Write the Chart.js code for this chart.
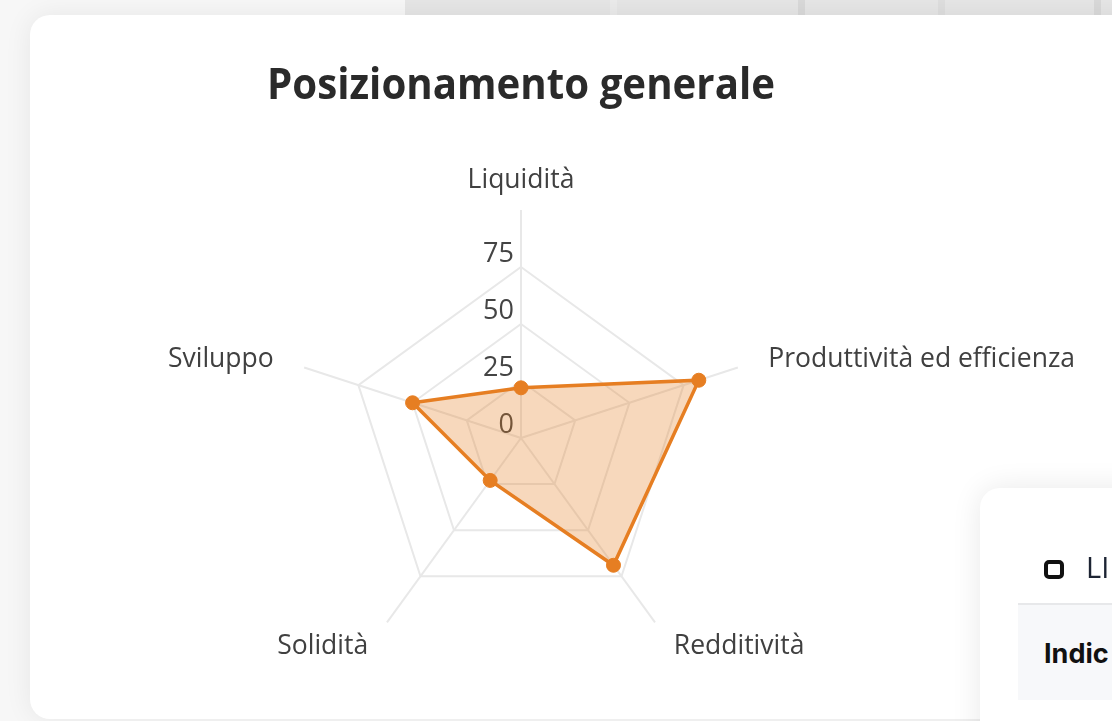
<!DOCTYPE html>
<html>
<head>
<meta charset="utf-8">
<script src="https://cdn.jsdelivr.net/npm/chart.js@4.4.1/dist/chart.umd.min.js"></script>
<style>
  html, body { margin: 0; padding: 0; width: 1112px; height: 721px; overflow: hidden; background: #f7f7f7; }
  .strip { position: absolute; left: 405px; top: 0; width: 707px; height: 17px; background: #e6e6e6; }
  .strip .bar { position: absolute; top: 0; height: 17px; width: 7px; background: #d9d9d9; }
  .card { position: absolute; left: 30px; top: 15px; width: 1250px; height: 704px; background: #fff;
          border-radius: 20px; box-shadow: 0 0 28px rgba(0,0,0,0.07); }
  #wrap { position: absolute; left: 0; top: 0; width: 1112px; height: 721px; }
  .card2 { position: absolute; left: 980px; top: 488px; width: 320px; height: 320px; background: #fff;
           border-radius: 20px; box-shadow: 0 0 30px rgba(0,0,0,0.09); overflow: hidden; }
  .card2 .icon { position: absolute; left: 64px; top: 72px; width: 12px; height: 11px; border: 4px solid #111; border-radius: 5px; }
  .card2 .head { position: absolute; left: 106px; top: 62px; font: 500 29px "Open Sans", sans-serif; color: #1d2433; white-space: nowrap; line-height: 34px; }
  .card2 .sep { position: absolute; left: 38px; top: 115px; width: 300px; height: 2px; background: #e7e8ea; }
  .card2 .thead { position: absolute; left: 38px; top: 117px; width: 300px; height: 95px; background: #f7f8fa; }
  .card2 .thead span { position: absolute; left: 26px; top: 33px; font: 700 27px "Inter", sans-serif; color: #111; white-space: nowrap; line-height: 32px; }
</style>
</head>
<body>
<div class="strip">
  <div class="bar" style="left:205px;background:#ebebeb"></div>
  <div class="bar" style="left:393px"></div>
  <div class="bar" style="left:533px;background:#dedede"></div>
  <div class="bar" style="left:689px"></div>
</div>
<div class="card"></div>
<div id="wrap"><canvas id="c" width="1112" height="721"></canvas></div>
<div class="card2">
  <div class="icon"></div>
  <div class="head">LI</div>
  <div class="sep"></div>
  <div class="thead"><span>Indic</span></div>
</div>
<script>
const categories = ['Liquidità', 'Produttività ed efficienza', 'Redditività', 'Solidità', 'Sviluppo'];
const seriesValues = [22, 82, 69, 23, 50];
const tickValues = [0, 25, 50, 75];
const scaleMin = 0;
const scaleMax = 100;

const labelFont = '26.5px "Open Sans", sans-serif';
const tickFont = '27px "Open Sans", sans-serif';

const radarLabels = {
  id: 'radarLabels',
  beforeDatasetsDraw(chart) {
    const s = chart.scales.r;
    const ctx = chart.ctx;
    ctx.save();
    ctx.font = tickFont;
    ctx.fillStyle = '#444';
    ctx.textAlign = 'right';
    ctx.textBaseline = 'middle';
    tickValues.forEach(v => {
      const d = s.getDistanceFromCenterForValue(v);
      ctx.fillText(String(v), s.xCenter - 7, s.yCenter - d - 13);
    });
    ctx.restore();
  },
  afterDraw(chart) {
    const s = chart.scales.r;
    const ctx = chart.ctx;
    ctx.save();
    ctx.font = labelFont;
    ctx.fillStyle = '#404040';
    ctx.textBaseline = 'middle';
    chart.data.labels.forEach((lab, i) => {
      const p = s.getPointPosition(i, s.drawingArea + 32);
      const dx = p.x - s.xCenter;
      ctx.textAlign = Math.abs(dx) < 1 ? 'center' : (dx > 0 ? 'left' : 'right');
      ctx.fillText(lab, p.x, p.y + (p.y < s.yCenter ? 2 : -2));
    });
    ctx.restore();
  }
};

new Chart(document.getElementById('c'), {
  type: 'radar',
  data: {
    labels: categories,
    datasets: [{
      data: seriesValues,
      borderColor: '#e67e22',
      backgroundColor: 'rgba(230,126,34,0.3)',
      borderWidth: 3.5,
      pointRadius: 7,
      pointBorderWidth: 1,
      pointBackgroundColor: '#e67e22',
      pointBorderColor: '#e67e22',
      fill: true
    }]
  },
  plugins: [radarLabels],
  options: {
    responsive: false,
    animation: false,
    layout: { padding: { left: 267, right: 337, top: 0, bottom: 55 } },
    plugins: {
      legend: { display: false },
      tooltip: { enabled: false },
      title: {
        display: true,
        text: 'Posizionamento generale',
        color: '#2a2a2a',
        font: { family: 'Open Sans', size: 43, weight: 'bold', lineHeight: 1.2 },
        padding: { top: 61.2, bottom: 97.2 }
      }
    },
    scales: {
      r: {
        min: scaleMin,
        max: scaleMax,
        afterBuildTicks: (scale) => { scale.ticks = tickValues.map(v => ({ value: v })); },
        ticks: { display: false },
        pointLabels: { display: false },
        grid: { color: '#e8e8e8', lineWidth: 2 },
        angleLines: { color: '#e8e8e8', lineWidth: 2 }
      }
    }
  }
});
</script>
</body>
</html>
